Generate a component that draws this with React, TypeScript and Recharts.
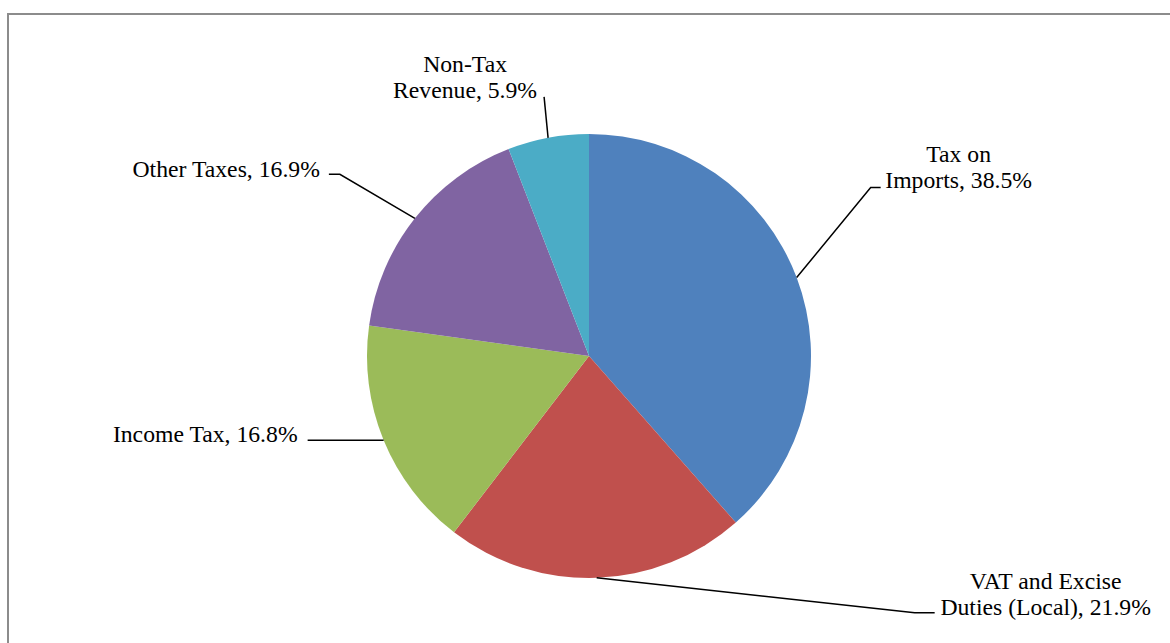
import { Cell, Pie, PieChart } from "recharts"

const categories = [
  "Tax on Imports",
  "VAT and Excise Duties (Local)",
  "Income Tax",
  "Other Taxes",
  "Non-Tax Revenue",
]
const shares = [38.5, 21.9, 16.8, 16.9, 5.9]
const labelText = [
  ["Tax on", "Imports, 38.5%"],
  ["VAT and Excise", "Duties (Local), 21.9%"],
  ["Income Tax, 16.8%"],
  ["Other Taxes, 16.9%"],
  ["Non-Tax", "Revenue, 5.9%"],
]
const colors = ["#4F81BD", "#C0504D", "#9BBB59", "#8064A2", "#4BACC6"]

const data = categories.map((name, i) => ({ name, value: shares[i] }))

// leader line elbow / end and text placement, relative to the slice edge point
const layout = [
  { elbow: [74, -90], end: [84, -90], text: [162, -116], anchor: "middle" },
  { elbow: [318, 35], end: [338, 35], text: [449, 11], anchor: "middle" },
  { elbow: [-76, 0], end: [-76, 0], text: [-86, 2], anchor: "end" },
  { elbow: [-75, -44], end: [-86, -44], text: [-95, -41], anchor: "end" },
  { elbow: [-4, -41], end: [-4, -41], text: [-83, -66], anchor: "middle" },
]

const RAD = Math.PI / 180
const FONT = "Liberation Serif"

function renderLabel(props: any) {
  const { cx, cy, midAngle, outerRadius, index } = props
  const x = cx + outerRadius * Math.cos(-midAngle * RAD)
  const y = cy + outerRadius * Math.sin(-midAngle * RAD)
  const l = layout[index]
  const lines = labelText[index]
  const pts = `${x},${y} ${x + l.elbow[0]},${y + l.elbow[1]} ${x + l.end[0]},${y + l.end[1]}`
  return (
    <g key={index}>
      <polyline points={pts} fill="none" stroke="#000" strokeWidth={1.5} />
      <text
        x={x + l.text[0]}
        y={y + l.text[1]}
        textAnchor={l.anchor as any}
        style={{ fontFamily: FONT, fontSize: 23.7 }}
        fill="#000"
      >
        {lines.map((t, i) => (
          <tspan key={i} x={x + l.text[0]} dy={i === 0 ? 0 : 26.5}>
            {t}
          </tspan>
        ))}
      </text>
    </g>
  )
}

export default function App() {
  return (
    <div
      style={{
        position: "absolute",
        left: 0,
        top: 0,
        width: 1170,
        height: 643,
        overflow: "hidden",
        background: "#fff",
        fontFamily: FONT,
      }}
    >
      <div
        style={{
          position: "absolute",
          left: 7,
          top: 13,
          width: 1200,
          height: 700,
          border: "2px solid #8c8c8c",
        }}
      />
      <div style={{ position: "absolute", left: 0, top: 0 }}>
        <PieChart width={1170} height={643}>
          <Pie
            data={data}
            dataKey="value"
            cx={584}
            cy={351}
            outerRadius={222}
            startAngle={90}
            endAngle={-270}
            stroke="none"
            label={renderLabel}
            labelLine={false}
            isAnimationActive={false}
          >
            {data.map((d, i) => (
              <Cell key={d.name} fill={colors[i]} />
            ))}
          </Pie>
        </PieChart>
      </div>
    </div>
  )
}
